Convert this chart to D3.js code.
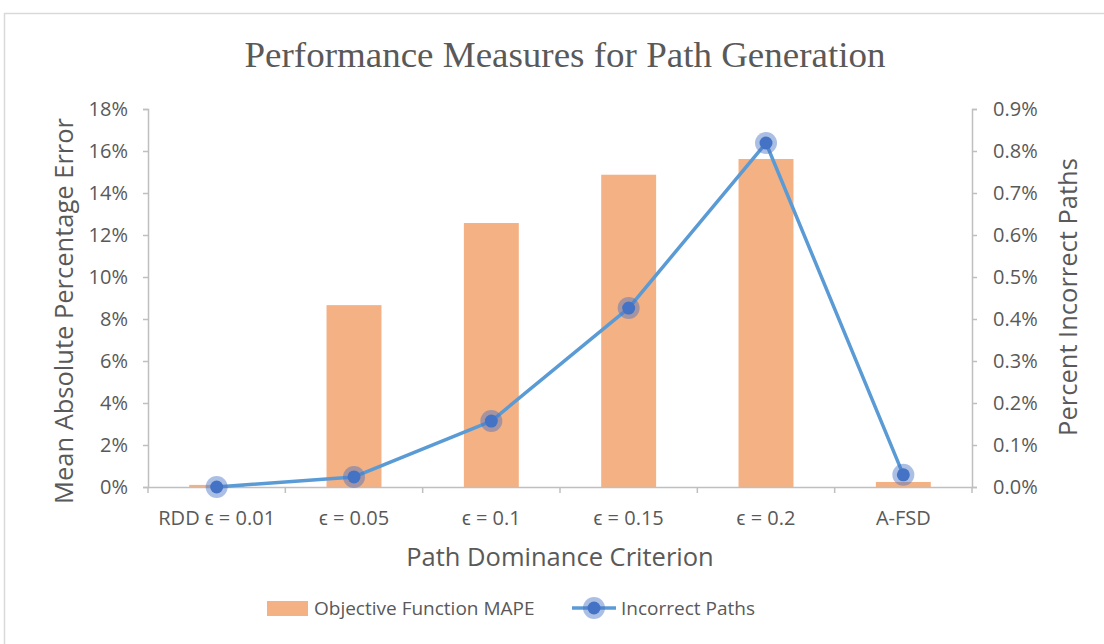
<!DOCTYPE html>
<html>
<head>
<meta charset="utf-8">
<script src="https://cdn.jsdelivr.net/npm/d3@7"></script>
<style>
  body { margin: 0; background: #fff; }
  svg { display: block; }
  .tick text { fill: #595959; font-family: "Open Sans", sans-serif; font-size: 20px; }
</style>
</head>
<body>
<div id="chart"></div>
<script>
// data
const categories = ["RDD \u03F5 = 0.01", "\u03F5 = 0.05", "\u03F5 = 0.1", "\u03F5 = 0.15", "\u03F5 = 0.2", "A-FSD"];
const mapeValues = [0.001, 0.0866, 0.1257, 0.1487, 0.1562, 0.0024];
const incorrectValues = [0.0000, 0.00024, 0.00157, 0.00426, 0.00819, 0.00029];
const leftTicks = [0, 0.02, 0.04, 0.06, 0.08, 0.10, 0.12, 0.14, 0.16, 0.18];
const rightTicks = [0, 0.001, 0.002, 0.003, 0.004, 0.005, 0.006, 0.007, 0.008, 0.009];

const width = 1104, height = 644;
const margin = {top: 109, right: 132, bottom: 157, left: 148};
const innerW = width - margin.left - margin.right;
const innerH = height - margin.top - margin.bottom;
const axisColor = "#bfbfbf";
const textColor = "#595959";

let svg = d3.select("#chart").append("svg")
    .attr("width", width)
    .attr("height", height);

// outer chart frame
svg.append("rect")
    .attr("x", 4.5).attr("y", 13.5)
    .attr("width", width + 10).attr("height", height + 10)
    .attr("fill", "none")
    .attr("stroke", "#d9d9d9")
    .attr("stroke-width", 1.5);

// title
svg.append("text")
    .attr("x", 565)
    .attr("y", 67)
    .attr("text-anchor", "middle")
    .attr("font-family", "Liberation Serif, serif")
    .attr("font-size", 35)
    .attr("fill", textColor)
    .attr("textLength", 641)
    .attr("lengthAdjust", "spacingAndGlyphs")
    .text("Performance Measures for Path Generation");

let g = svg.append("g")
    .attr("transform", `translate(${margin.left}, ${margin.top})`);

// scales
let x = d3.scaleBand()
    .domain(categories)
    .range([0, innerW])
    .paddingInner(0.6)
    .paddingOuter(0.3);

let xPoint = d3.scaleBand()
    .domain(categories)
    .range([0, innerW]);

let yLeft = d3.scaleLinear().domain([0, 0.18]).range([innerH, 0]);
let yRight = d3.scaleLinear().domain([0, 0.009]).range([innerH, 0]);

// bars
g.selectAll(".bar")
    .data(categories)
    .enter()
    .append("rect")
    .attr("class", "bar")
    .attr("x", d => x(d))
    .attr("width", x.bandwidth())
    .attr("y", (d, i) => yLeft(mapeValues[i]))
    .attr("height", (d, i) => innerH - yLeft(mapeValues[i]))
    .attr("fill", "#f4b183");

// left axis
let leftAxis = g.append("g")
    .call(d3.axisLeft(yLeft).tickValues(leftTicks).tickFormat(d3.format(".0%")).tickSizeOuter(0).tickSize(5).tickPadding(15));

// right axis
let rightAxis = g.append("g")
    .attr("transform", `translate(${innerW}, 0)`)
    .call(d3.axisRight(yRight).tickValues(rightTicks).tickFormat(d3.format(".1%")).tickSizeOuter(0).tickSize(5).tickPadding(16));

// x axis with ticks at band boundaries
let xAxis = g.append("g")
    .attr("transform", `translate(0, ${innerH})`)
    .call(d3.axisBottom(xPoint).tickSize(0).tickPadding(24).tickSizeOuter(0));

xAxis.selectAll(".bound")
    .data(d3.range(categories.length + 1))
    .enter()
    .append("line")
    .attr("class", "bound")
    .attr("x1", i => i * xPoint.step())
    .attr("x2", i => i * xPoint.step())
    .attr("y1", 0)
    .attr("y2", 6)
    .attr("stroke", axisColor)
    .attr("stroke-width", 1.5);

[leftAxis, rightAxis, xAxis].forEach(a => {
    a.select(".domain").attr("stroke", axisColor).attr("stroke-width", 1.5);
    a.selectAll(".tick line").attr("stroke", axisColor).attr("stroke-width", 1.5);
});

// line series
let line = d3.line()
    .x((d, i) => xPoint(categories[i]) + xPoint.bandwidth() / 2)
    .y(d => yRight(d));

g.append("path")
    .datum(incorrectValues)
    .attr("d", line)
    .attr("fill", "none")
    .attr("stroke", "#5b9bd5")
    .attr("stroke-width", 3.5)
    .attr("stroke-linejoin", "round");

let markers = g.selectAll(".marker")
    .data(incorrectValues)
    .enter()
    .append("g")
    .attr("class", "marker")
    .attr("transform", (d, i) => `translate(${xPoint(categories[i]) + xPoint.bandwidth() / 2}, ${yRight(d)})`);

markers.append("circle")
    .attr("r", 11)
    .attr("fill", "#4472c4")
    .attr("fill-opacity", 0.45);

markers.append("circle")
    .attr("r", 6.5)
    .attr("fill", "#4472c4");

// axis titles
svg.append("text")
    .attr("transform", `translate(73, 311) rotate(-90)`)
    .attr("text-anchor", "middle")
    .attr("font-family", "Open Sans, sans-serif")
    .attr("font-size", 25.5)
    .attr("fill", textColor)
    .text("Mean Absolute Percentage Error");

svg.append("text")
    .attr("transform", `translate(1077, 297) rotate(-90)`)
    .attr("text-anchor", "middle")
    .attr("font-family", "Open Sans, sans-serif")
    .attr("font-size", 25.5)
    .attr("fill", textColor)
    .text("Percent Incorrect Paths");

svg.append("text")
    .attr("x", 560)
    .attr("y", 566)
    .attr("text-anchor", "middle")
    .attr("font-family", "Open Sans, sans-serif")
    .attr("font-size", 25.5)
    .attr("fill", textColor)
    .text("Path Dominance Criterion");

// legend
let legend = svg.append("g");

legend.append("rect")
    .attr("x", 267).attr("y", 601)
    .attr("width", 41).attr("height", 15)
    .attr("fill", "#f4b183");

legend.append("text")
    .attr("x", 314).attr("y", 615)
    .attr("font-family", "Open Sans, sans-serif")
    .attr("font-size", 19)
    .attr("fill", textColor)
    .text("Objective Function MAPE");

legend.append("line")
    .attr("x1", 572).attr("x2", 616)
    .attr("y1", 608).attr("y2", 608)
    .attr("stroke", "#5b9bd5")
    .attr("stroke-width", 3.5);

legend.append("circle")
    .attr("cx", 594).attr("cy", 608).attr("r", 11)
    .attr("fill", "#4472c4").attr("fill-opacity", 0.45);

legend.append("circle")
    .attr("cx", 594).attr("cy", 608).attr("r", 6.5)
    .attr("fill", "#4472c4");

legend.append("text")
    .attr("x", 621).attr("y", 615)
    .attr("font-family", "Open Sans, sans-serif")
    .attr("font-size", 19)
    .attr("fill", textColor)
    .text("Incorrect Paths");
</script>
</body>
</html>
